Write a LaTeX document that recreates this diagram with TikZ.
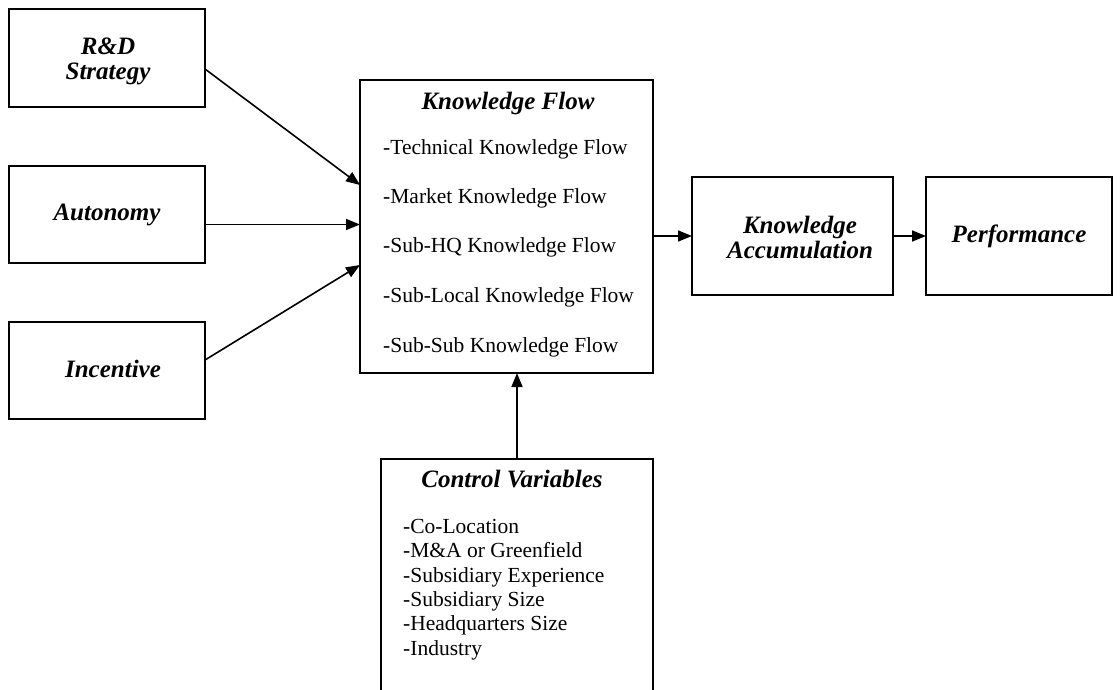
\documentclass[tikz,border=0pt]{standalone}
\usepackage{fontspec}
\setmainfont{Liberation Serif}
\usetikzlibrary{arrows.meta}
\begin{document}
\begin{tikzpicture}[x=1pt,y=-1pt,
  box/.style={draw, line width=2pt, rectangle, inner sep=0pt, outer sep=0pt},
  head/.style={font=\fontsize{25}{25}\selectfont\bfseries\itshape, align=center, inner sep=0pt},
  body/.style={font=\fontsize{21.5}{24.3}\selectfont, inner sep=0pt, anchor=base west},
  arr/.style={line width=1.6pt, -{Triangle[length=14pt,width=11pt]}}]
\clip (0,0) rectangle (1120,689);
\fill[white] (0,0) rectangle (1120,689);

% left boxes
\node[box, minimum width=196pt, minimum height=98pt] (rd) at (107,58) {};
\node[head] (rdtxt) at (108,61) {R\&D\\Strategy};
\node[box, head, minimum width=196pt, minimum height=97pt] (au) at (107,214.5) {Autonomy};
\node[box, minimum width=196pt, minimum height=97pt] (in) at (107,370) {};
\node[head] (intxt) at (113,369) {Incentive};

% knowledge flow
\node[box, minimum width=293pt, minimum height=293pt] (kf) at (506.5,226.5) {};
\node[head, anchor=base] (kfh) at (508,109) {Knowledge Flow};
\node[body] (kf1) at (383,154) {-Technical Knowledge Flow};
\node[body] (kf2) at (383,203) {-Market Knowledge Flow};
\node[body] (kf3) at (383,252) {-Sub-HQ Knowledge Flow};
\node[body] (kf4) at (383,302) {-Sub-Local Knowledge Flow};
\node[body] (kf5) at (383,352) {-Sub-Sub Knowledge Flow};

% right boxes
\node[box, minimum width=201pt, minimum height=118pt] (ka) at (792.5,236) {};
\node[head] (katxt) at (800,237) {Knowledge\\Accumulation};
\node[box, head, minimum width=186pt, minimum height=118pt] (pf) at (1019,236) {Performance};

% control variables
\node[box, minimum width=272pt, minimum height=261pt] (cv) at (517,589.5) {};
\node[head, anchor=base] (cvh) at (512,487) {Control Variables};
\node[body] (cv1) at (403,533) {-Co-Location};
\node[body] (cv2) at (403,557.5) {-M\&A or Greenfield};
\node[body] (cv3) at (403,582) {-Subsidiary Experience};
\node[body] (cv4) at (403,606) {-Subsidiary Size};
\node[body] (cv5) at (403,630.5) {-Headquarters Size};
\node[body] (cv6) at (403,655) {-Industry};

% connectors
\draw[arr] ([yshift=-11pt]rd.east) -- ([yshift=41.5pt]kf.west);
\draw[arr] ([yshift=-10pt]au.east) -- ([yshift=-10pt]au.east -| kf.west);
\draw[arr] ([yshift=10pt]in.east) -- ([yshift=-38.5pt]kf.west);
\draw[arr] (kf.east |- ka.west) -- (ka.west);
\draw[arr] (ka.east) -- (pf.west);
\draw[arr] (cv.north) -- (cv.north |- kf.south);
\end{tikzpicture}
\end{document}
